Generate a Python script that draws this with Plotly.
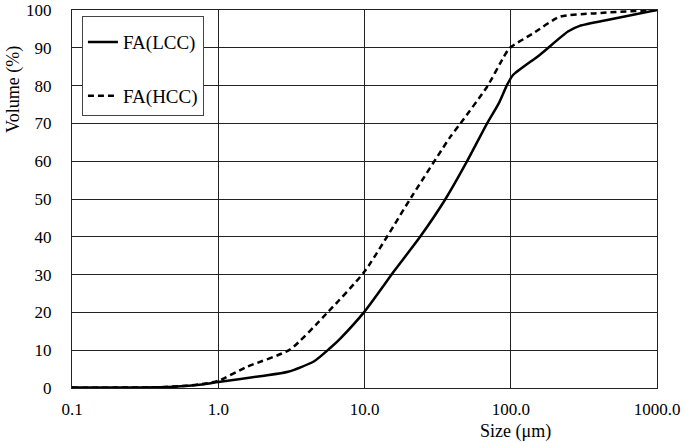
import plotly.graph_objects as go

# particle size distribution (cumulative volume %)
lcc_size = [0.1, 0.2, 0.4, 0.6, 0.8, 1.0, 2.0, 3.0, 4.5, 5.8, 6.8, 10.0, 16.0, 24.0, 35.8,
            50.3, 68.9, 82.8, 94.4, 103.7, 157.8, 246.0, 296.0, 475.0, 1000.0]
lcc_vol = [0.1, 0.1, 0.2, 0.5, 1.0, 1.6, 3.2, 4.3, 7.0, 10.5, 13.0, 20.2, 31.0, 40.0, 50.0,
           60.0, 70.0, 75.3, 80.2, 82.8, 88.1, 94.3, 95.8, 97.5, 100.0]

hcc_size = [0.1, 0.2, 0.4, 0.6, 0.8, 1.0, 1.57, 3.1, 5.53, 10.0, 21.0, 38.7, 45.3, 68.9, 89.6, 98.0,
            142.0, 216.0, 365.0, 1000.0]
hcc_vol = [0.1, 0.1, 0.2, 0.6, 1.1, 1.9, 5.6, 10.2, 19.8, 30.8, 50.6, 66.5, 70.0, 79.7, 87.6, 89.9,
           93.8, 98.2, 99.1, 100.0]

x_ticks = [0.1, 1, 10, 100, 1000]
x_labels = ["0.1", "1.0", "10.0", "100.0", "1000.0"]

font = "Liberation Serif"

fig = go.Figure()
fig.add_trace(go.Scatter(x=lcc_size, y=lcc_vol, mode="lines", name="FA(LCC)", legendgroup="a",
                         line=dict(color="black", width=2.5, shape="spline", smoothing=0.6)))
fig.add_trace(go.Scatter(x=hcc_size, y=hcc_vol, mode="lines", name="FA(HCC)", legendgroup="b",
                         line=dict(color="black", width=2.5, dash="6px,4px",
                                   shape="spline", smoothing=0.6)))

fig.update_layout(
    width=685, height=443,
    margin=dict(l=72, r=28, t=10, b=55),
    paper_bgcolor="white", plot_bgcolor="white",
    font=dict(family=font, size=17, color="black"),
    showlegend=True,
    legend=dict(x=0.017, y=0.985, xanchor="left", yanchor="top",
                bgcolor="white", bordercolor="#444", borderwidth=1,
                font=dict(size=19), tracegroupgap=26, traceorder="grouped",
                itemwidth=30, title=dict(text=" ", font=dict(size=5))),
    xaxis=dict(type="log", range=[-1, 3], tickvals=x_ticks, ticktext=x_labels,
               showgrid=True, gridcolor="#222", gridwidth=1, automargin=False,
               showline=True, linecolor="#222", mirror=True, ticks="", zeroline=False,
               ticklabelstandoff=6),
    yaxis=dict(range=[0, 100], dtick=10, showgrid=True, gridcolor="#222", gridwidth=1,
               showline=True, linecolor="#222", mirror=True, ticks="", zeroline=False,
               ticklabelstandoff=16, automargin=False),
    annotations=[
        dict(text="Size (μm)", xref="paper", yref="paper", showarrow=False,
             x=(515 - 72) / (685 - 72 - 28), y=-(432 - 388) / (388 - 10),
             xanchor="center", yanchor="middle", font=dict(size=18)),
        dict(text="Volume (%)", xref="paper", yref="paper", showarrow=False,
             x=-(72 - 13) / (685 - 72 - 28), y=(388 - 90) / (388 - 10),
             xanchor="center", yanchor="middle", textangle=-90, font=dict(size=18)),
    ],
)

fig.write_html("out.html", config={"displayModeBar": False},
               post_script="document.body.style.margin='0';")
